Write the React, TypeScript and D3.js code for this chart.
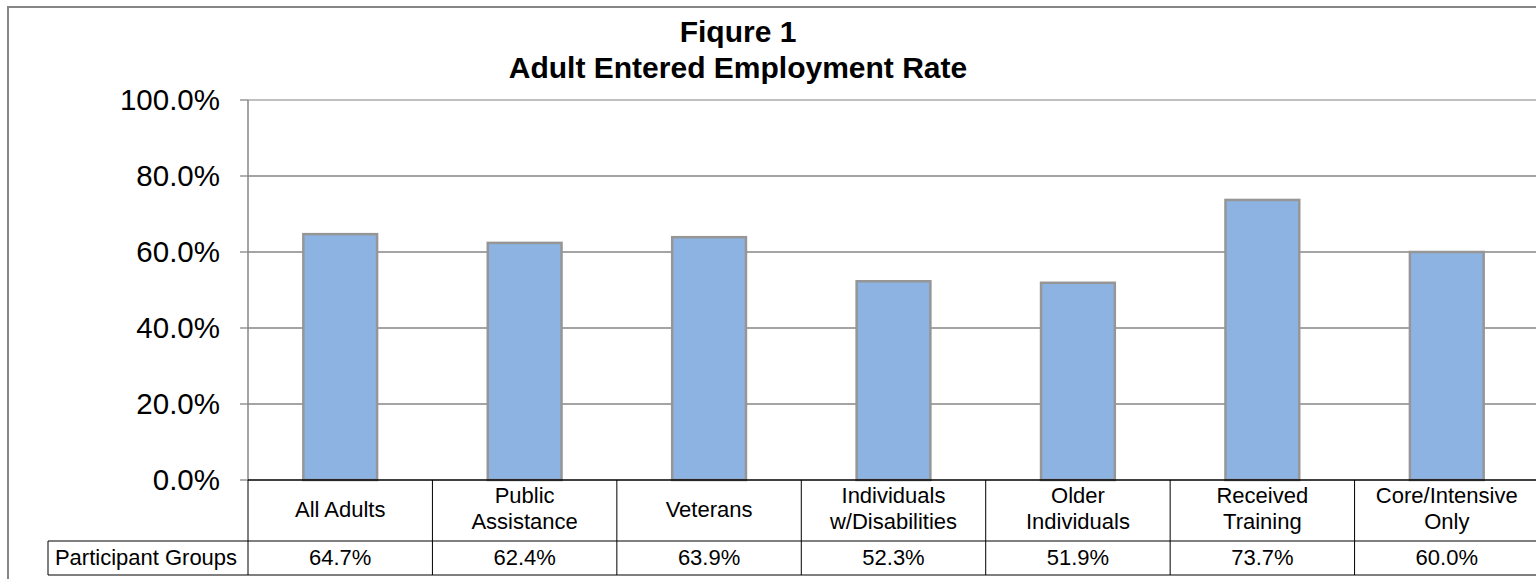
import React from "react";
import * as d3 from "d3";

const categories: string[][] = [
  ["All Adults"],
  ["Public", "Assistance"],
  ["Veterans"],
  ["Individuals", "w/Disabilities"],
  ["Older", "Individuals"],
  ["Received", "Training"],
  ["Core/Intensive", "Only"],
];
const values: number[] = [64.7, 62.4, 63.9, 52.3, 51.9, 73.7, 60.0];
const yTicks: number[] = [0, 20, 40, 60, 80, 100];
const titleLines: string[] = ["Fiqure 1", "Adult Entered Employment Rate"];
const rowLabel = "Participant Groups";

const W = 1536;
const H = 579;
const FONT = "'Liberation Sans', Arial, sans-serif";

export default function App() {
  const left = 248;
  const right = 1539;
  const top = 100;
  const bottom = 480;
  const row1 = 541;
  const row2 = 575;

  const x = d3
    .scaleBand<number>()
    .domain(d3.range(values.length))
    .range([left, right])
    .paddingInner(0.6)
    .paddingOuter(0.3);
  const colW = (right - left) / values.length;
  const bandStart = (i: number) => left + i * colW;
  const y = d3.scaleLinear().domain([0, 100]).range([bottom, top]);

  return (
    <svg
      width={W}
      height={H}
      style={{ position: "absolute", left: 0, top: 0, display: "block" }}
      fontFamily={FONT}
    >
      <rect x={0} y={0} width={W} height={H} fill="#fff" />
      <rect x={8} y={7} width={1600} height={700} fill="none" stroke="#868686" strokeWidth={2} />
      {titleLines.map((t, i) => (
        <text
          key={i}
          x={738}
          y={42 + i * 36}
          textAnchor="middle"
          fontWeight="bold"
          fontSize={30}
          fill="#000"
        >
          {t}
        </text>
      ))}
      {/* gridlines */}
      {yTicks.map((t) =>
        t === 0 ? null : (
          <line
            key={t}
            x1={left}
            x2={W + 10}
            y1={y(t)}
            y2={y(t)}
            stroke={t === 100 ? "#c0c0c0" : "#868686"}
            strokeWidth={t === 100 ? 2 : 1.3}
          />
        )
      )}
      {/* y axis */}
      <line x1={left} x2={left} y1={top} y2={bottom} stroke="#868686" strokeWidth={1.5} />
      {yTicks.map((t) => (
        <g key={"t" + t}>
          <line x1={left - 8} x2={left} y1={y(t)} y2={y(t)} stroke="#868686" strokeWidth={1.3} />
          <text x={220} y={y(t) + 10} textAnchor="end" fontSize={29.5} fill="#000">
            {t.toFixed(1) + "%"}
          </text>
        </g>
      ))}
      {/* bars */}
      {values.map((v, i) => (
        <rect
          key={i}
          x={x(i)!}
          y={y(v)}
          width={x.bandwidth()}
          height={y(0) - y(v)}
          fill="#8DB3E2"
          stroke="#969696"
          strokeWidth={2.5}
        />
      ))}
      {/* table */}
      <line x1={left} x2={W + 10} y1={bottom} y2={bottom} stroke="#000" strokeWidth={1.3} />
      <line x1={48} x2={W + 10} y1={row1} y2={row1} stroke="#000" strokeWidth={1} />
      <line x1={48} x2={W + 10} y1={row2} y2={row2} stroke="#000" strokeWidth={1} />
      <line x1={48} x2={48} y1={row1} y2={row2} stroke="#000" strokeWidth={1} />
      {d3.range(values.length + 1).map((i) => (
        <line
          key={"v" + i}
          x1={bandStart(i)}
          x2={bandStart(i)}
          y1={bottom}
          y2={row2}
          stroke="#000"
          strokeWidth={1}
        />
      ))}
      <text x={146} y={565} textAnchor="middle" fontSize={22} fill="#000">
        {rowLabel}
      </text>
      {categories.map((lines, i) => {
        const cx = bandStart(i) + colW / 2;
        const lh = 26;
        const y0 = 517 - ((lines.length - 1) * lh) / 2 + (lines.length > 1 ? -1 : 0);
        return (
          <g key={"c" + i}>
            {lines.map((l, j) => (
              <text key={j} x={cx} y={y0 + j * lh} textAnchor="middle" fontSize={22} fill="#000">
                {l}
              </text>
            ))}
            <text x={cx} y={565} textAnchor="middle" fontSize={22} fill="#000">
              {values[i].toFixed(1) + "%"}
            </text>
          </g>
        );
      })}
    </svg>
  );
}
